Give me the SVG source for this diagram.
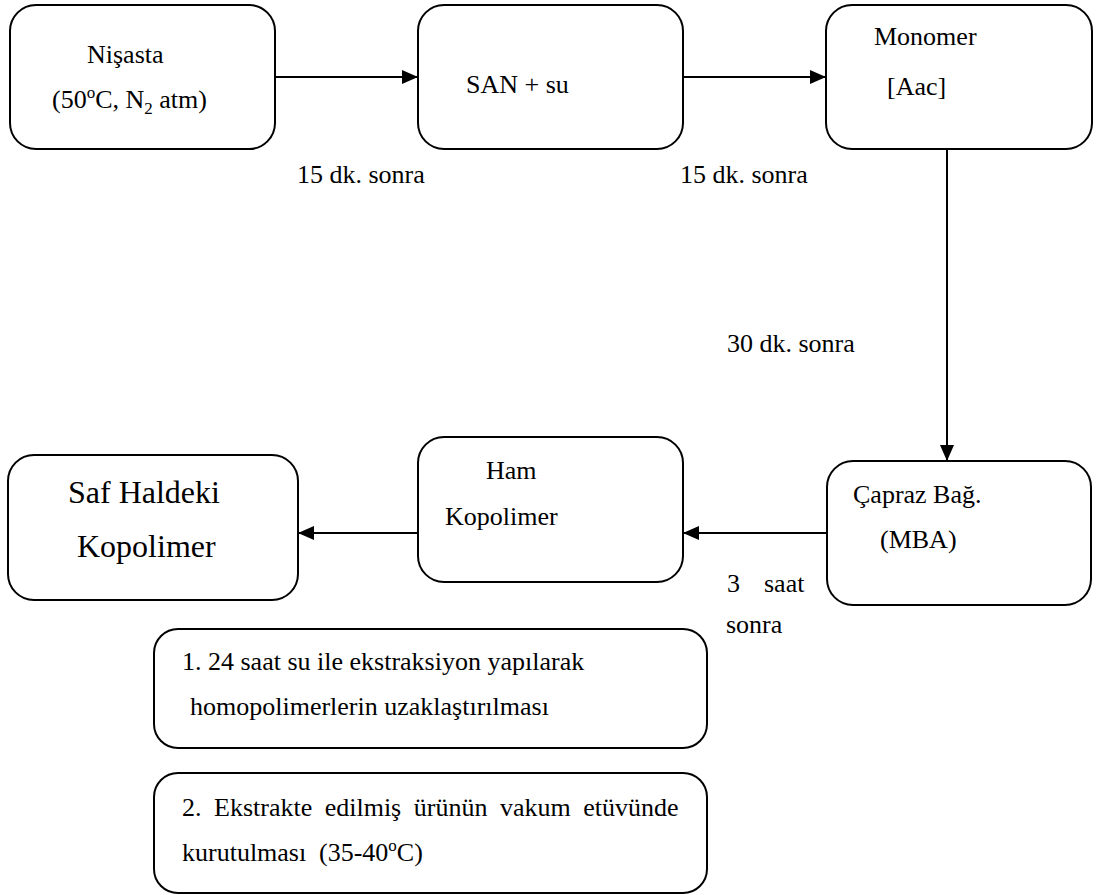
<svg xmlns="http://www.w3.org/2000/svg" width="1096" height="895" viewBox="0 0 1096 895" font-family="'Liberation Serif', 'DejaVu Serif', serif">
  <style>
    .box { fill: #fff; stroke: #000; stroke-width: 2; }
    .edge { fill: none; stroke: #000; stroke-width: 2; marker-end: url(#arrow); }
    .t { font-family: 'Liberation Serif', 'DejaVu Serif', serif; font-size: 26px; fill: #000; }
    .big { font-size: 32px; }
    .sup { font-size: 17px; }
  </style>
  <defs>
    <marker id="arrow" markerWidth="16" markerHeight="14" refX="16" refY="7" orient="auto" markerUnits="userSpaceOnUse">
      <path d="M0,0 L16,7 L0,14 Z" fill="#000"/>
    </marker>
  </defs>
  <rect width="1096" height="895" fill="#fff"/>

  <g id="connectors">
    <line class="edge" x1="275" y1="77" x2="418" y2="77"/>
    <line class="edge" x1="683" y1="77" x2="826" y2="77"/>
    <line class="edge" x1="947" y1="149" x2="947" y2="461"/>
    <line class="edge" x1="827" y1="533" x2="683" y2="533"/>
    <line class="edge" x1="418" y1="533" x2="298" y2="533"/>
    <text class="t" x="297" y="183">15 dk. sonra</text>
    <text class="t" x="680" y="183">15 dk. sonra</text>
    <text class="t" x="727" y="352">30 dk. sonra</text>
    <text class="t" x="727" y="592">3</text>
    <text class="t" x="764" y="592">saat</text>
    <text class="t" x="726" y="633">sonra</text>
  </g>

  <g id="nisasta">
    <rect class="box" x="10" y="5" width="265" height="144" rx="26"/>
    <text class="t" x="87" y="63">Nişasta</text>
    <text class="t" x="52" y="108">(50<tspan class="sup" dy="-10">o</tspan><tspan dy="10">C, N</tspan><tspan class="sup" dy="6">2</tspan><tspan dy="-6"> atm)</tspan></text>
  </g>

  <g id="san-su">
    <rect class="box" x="418" y="5" width="265" height="144" rx="26"/>
    <text class="t" x="466" y="93">SAN + su</text>
  </g>

  <g id="monomer">
    <rect class="box" x="826" y="5" width="266" height="144" rx="26"/>
    <text class="t" x="874" y="45">Monomer</text>
    <text class="t" x="887" y="95">[Aac]</text>
  </g>

  <g id="capraz-bag">
    <rect class="box" x="827" y="461" width="264" height="144" rx="26"/>
    <text class="t" x="853" y="503">Çapraz Bağ.</text>
    <text class="t" x="880" y="548">(MBA)</text>
  </g>

  <g id="ham-kopolimer">
    <rect class="box" x="418" y="437" width="265" height="145" rx="26"/>
    <text class="t" x="486" y="479">Ham</text>
    <text class="t" x="445" y="525">Kopolimer</text>
  </g>

  <g id="saf-kopolimer">
    <rect class="box" x="8" y="455" width="290" height="145" rx="26"/>
    <text class="t big" x="68" y="503">Saf Haldeki</text>
    <text class="t big" x="77" y="557">Kopolimer</text>
  </g>

  <g id="step-1">
    <rect class="box" x="154" y="629" width="553" height="119" rx="24"/>
    <text class="t" x="182" y="670">1. 24 saat su ile ekstraksiyon yapılarak</text>
    <text class="t" x="190" y="715">homopolimerlerin uzaklaştırılması</text>
  </g>

  <g id="step-2">
    <rect class="box" x="154" y="773" width="553" height="120" rx="24"/>
    <text class="t" x="182" y="816" word-spacing="6">2. Ekstrakte edilmiş ürünün vakum etüvünde</text>
    <text class="t" x="182" y="861">kurutulması</text>
    <text class="t" x="319" y="861">(35-40<tspan class="sup" dy="-10">o</tspan><tspan dy="10">C)</tspan></text>
  </g>
</svg>
